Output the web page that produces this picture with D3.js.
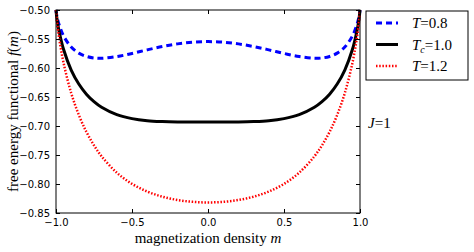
<!DOCTYPE html>
<html>
<head>
<meta charset="utf-8">
<script src="https://cdn.jsdelivr.net/npm/d3@7"></script>
<style>
  body { margin: 0; background: #fff; }
  .tick text { font-family: "DejaVu Sans", sans-serif; font-size: 10px; fill: #000; }
  .serif { font-family: "Liberation Serif", "DejaVu Serif", serif; fill: #000; }
</style>
</head>
<body>
<div id="chart"></div>
<script>
// magnetization density grid
const mValues = [-1, -0.995, -0.99, -0.98, -0.95, -0.9, -0.85, -0.8, -0.75, -0.7, -0.6, -0.5, -0.4, -0.3, -0.2, -0.1,
  0, 0.1, 0.2, 0.3, 0.4, 0.5, 0.6, 0.7, 0.75, 0.8, 0.85, 0.9, 0.95, 0.98, 0.99, 0.995, 1];

// free energy values
const fT08 = [-0.5, -0.509, -0.5152, -0.525, -0.5448, -0.5638, -0.5744, -0.5801, -0.5827, -0.5832, -0.5803, -0.5749, -0.5687, -0.563, -0.5584, -0.5555,
  -0.5545, -0.5555, -0.5584, -0.563, -0.5687, -0.5749, -0.5803, -0.5832, -0.5827, -0.5801, -0.5744, -0.5638, -0.5448, -0.525, -0.5152, -0.509, -0.5];
const fT10 = [-0.5, -0.5125, -0.5215, -0.5362, -0.5682, -0.6035, -0.6276, -0.6451, -0.658, -0.6677, -0.6804, -0.6873, -0.6909, -0.6924, -0.693, -0.6931,
  -0.6931, -0.6931, -0.693, -0.6924, -0.6909, -0.6873, -0.6804, -0.6677, -0.658, -0.6451, -0.6276, -0.6035, -0.5682, -0.5362, -0.5215, -0.5125, -0.5];
const fT12 = [-0.5, -0.516, -0.5278, -0.5474, -0.5915, -0.6432, -0.6809, -0.7101, -0.7334, -0.7523, -0.7805, -0.7998, -0.813, -0.8219, -0.8276, -0.8308,
  -0.8318, -0.8308, -0.8276, -0.8219, -0.813, -0.7998, -0.7805, -0.7523, -0.7334, -0.7101, -0.6809, -0.6432, -0.5915, -0.5474, -0.5278, -0.516, -0.5];

const xTicks = [-1, -0.5, 0, 0.5, 1];
const yTicks = [-0.5, -0.55, -0.6, -0.65, -0.7, -0.75, -0.8, -0.85];

const series = [
  { name: 'T08', values: fT08, color: '#0000ff', width: 3, dash: '6,4' },
  { name: 'T10', values: fT10, color: '#000000', width: 3, dash: null },
  { name: 'T12', values: fT12, color: '#ff0000', width: 2.5, dash: '1.5,1.7' }
];

const W = 474, H = 252;
const margin = { top: 10, right: 114, bottom: 39, left: 56 };
const width = W - margin.left - margin.right;
const height = H - margin.top - margin.bottom;

const svg = d3.select('#chart').append('svg')
  .attr('width', W)
  .attr('height', H);

const g = svg.append('g')
  .attr('transform', `translate(${margin.left},${margin.top})`);

const x = d3.scaleLinear().domain([-1, 1]).range([0, width]);
const y = d3.scaleLinear().domain([-0.85, -0.5]).range([height, 0]);

const fmt = d3.format('.1f');
const fmtY = d3.format('.2f');
const minus = s => s.replace('-', '\u2212');

// curves
const line = d3.line()
  .x((d, i) => x(mValues[i]))
  .y(d => y(d))
  .curve(d3.curveCatmullRom);

const clip = g.append('clipPath').attr('id', 'clip')
  .append('rect').attr('x', -2).attr('y', -2).attr('width', width + 4).attr('height', height + 4);

series.forEach(s => {
  g.append('path')
    .datum(s.values)
    .attr('fill', 'none')
    .attr('stroke', s.color)
    .attr('stroke-width', s.width)
    .attr('stroke-dasharray', s.dash)
    .attr('clip-path', 'url(#clip)')
    .attr('d', line);
});

// axes with inward ticks on all sides
g.append('g')
  .attr('transform', `translate(0,${height})`)
  .call(d3.axisBottom(x).tickValues(xTicks).tickSize(-4).tickPadding(6).tickFormat(d => minus(fmt(d))))
  .call(a => a.select('.domain').remove());
g.append('g')
  .call(d3.axisTop(x).tickValues(xTicks).tickSize(-4).tickFormat(''))
  .call(a => a.select('.domain').remove());
g.append('g')
  .call(d3.axisLeft(y).tickValues(yTicks).tickSize(-4).tickPadding(6).tickFormat(d => minus(fmtY(d))))
  .call(a => a.select('.domain').remove());
g.append('g')
  .attr('transform', `translate(${width},0)`)
  .call(d3.axisRight(y).tickValues(yTicks).tickSize(-4).tickFormat(''))
  .call(a => a.select('.domain').remove());

g.selectAll('.tick line').attr('stroke', '#000');

g.append('rect')
  .attr('width', width)
  .attr('height', height)
  .attr('fill', 'none')
  .attr('stroke', '#000')
  .attr('stroke-width', 1);

// axis labels
svg.append('text')
  .attr('class', 'serif')
  .attr('x', margin.left + width / 2)
  .attr('y', 243)
  .attr('text-anchor', 'middle')
  .style('font-size', '15px')
  .html('magnetization density <tspan font-style="italic">m</tspan>');

svg.append('text')
  .attr('class', 'serif')
  .attr('transform', `translate(18,${margin.top + height / 2}) rotate(-90)`)
  .attr('text-anchor', 'middle')
  .style('font-size', '15px')
  .html('free energy functional <tspan font-style="italic">f</tspan>(<tspan font-style="italic">m</tspan>)');

// legend
const lg = svg.append('g').attr('transform', 'translate(366,11)');
lg.append('rect')
  .attr('width', 102)
  .attr('height', 69)
  .attr('fill', '#fff')
  .attr('stroke', '#000')
  .attr('stroke-width', 1);

const legendLabels = [
  '<tspan font-style="italic">T</tspan>=0.8',
  '<tspan font-style="italic">T</tspan><tspan font-style="italic" font-size="10px" dy="3">c</tspan><tspan dy="-3">=1.0</tspan>',
  '<tspan font-style="italic">T</tspan>=1.2'
];
series.forEach((s, i) => {
  const yy = 12 + i * 21.5;
  lg.append('line')
    .attr('x1', 10).attr('x2', 32)
    .attr('y1', yy).attr('y2', yy)
    .attr('stroke', s.color)
    .attr('stroke-width', s.width)
    .attr('stroke-dasharray', s.dash);
  lg.append('text')
    .attr('class', 'serif')
    .attr('x', 46)
    .attr('y', yy + 5)
    .style('font-size', '15px')
    .html(legendLabels[i]);
});

svg.append('text')
  .attr('class', 'serif')
  .attr('x', 368)
  .attr('y', 128)
  .style('font-size', '15px')
  .html('<tspan font-style="italic">J</tspan>=1');
</script>
</body>
</html>
